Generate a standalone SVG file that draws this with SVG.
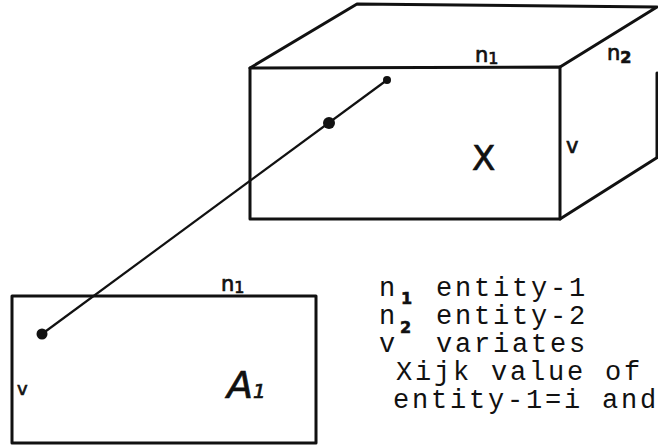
<svg xmlns="http://www.w3.org/2000/svg" width="658" height="447" viewBox="0 0 658 447">
<style>
.edge{fill:none;stroke:#111;stroke-width:3;stroke-linejoin:round;stroke-linecap:round}
.hand{font-family:"DejaVu Sans","Liberation Sans",sans-serif;fill:#111;stroke:#111;stroke-width:0.7}
.mono{font-family:"Liberation Mono","DejaVu Sans Mono",monospace;font-size:27px;letter-spacing:2.8px;fill:#111}
.sub{font-family:"DejaVu Sans","Liberation Sans",sans-serif;font-weight:bold;font-size:16px;fill:#111;stroke:#111;stroke-width:0.6}
.conn{stroke:#111;stroke-width:2.2;fill:none}
.dot{fill:#111}
</style>
<rect width="658" height="447" fill="#fff"/>
<g id="cube-X">
<path class="edge" d="M250,68 L560,67 L560,219 L250,219 Z"/>
<path class="edge" d="M250,68 L357,4 L657,7 L560,67"/>
<path class="edge" d="M560,219 L658,157"/>
<path class="edge" d="M657,73 L657,157" stroke-width="1.5"/>
<text class="hand" x="475" y="62" font-size="21">n<tspan font-size="16" dy="2">1</tspan></text>
<text class="hand" x="607" y="60" font-size="21">n<tspan font-size="16" font-weight="bold" dy="3">2</tspan></text>
<text class="hand" x="566" y="153" font-size="21">v</text>
<text class="hand" x="472" y="170" font-size="34">X</text>
</g>
<g id="matrix-A1">
<rect class="edge" x="12" y="296" width="304" height="147"/>
<text class="hand" x="221" y="291" font-size="21">n<tspan font-size="16" dy="2">1</tspan></text>
<text class="hand" x="17" y="395" font-size="18">v</text>
<text class="hand" x="227" y="398" font-size="38" font-style="italic">A<tspan font-size="20">1</tspan></text>
</g>
<g id="connectors">
<line class="conn" x1="387" y1="80" x2="42" y2="334"/>
<circle class="dot" cx="387" cy="80" r="4"/>
<circle class="dot" cx="329" cy="123" r="6"/>
<circle class="dot" cx="42" cy="334" r="5.5"/>
</g>
<g id="legend">
<text class="mono" x="379" y="296">n</text><text class="sub" x="401" y="304">1</text><text class="mono" x="436" y="296">entity-1</text>
<text class="mono" x="379" y="324">n</text><text class="sub" x="400" y="333">2</text><text class="mono" x="436" y="324">entity-2</text>
<text class="mono" x="379" y="352">v</text><text class="mono" x="436" y="352">variates</text>
<text class="mono" x="396" y="380">Xijk value of</text>
<text class="mono" x="393" y="408" letter-spacing="2.6">entity-1=i and</text>
</g>
</svg>
